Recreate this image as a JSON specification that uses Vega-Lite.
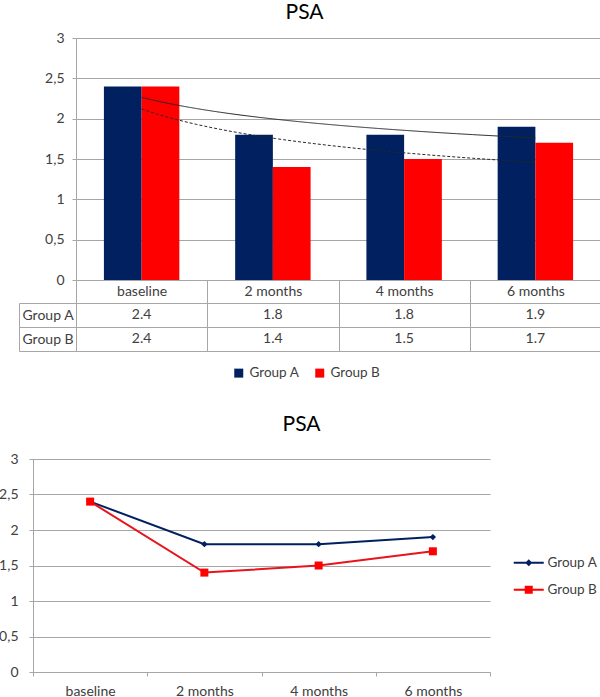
{
  "$schema": "https://vega.github.io/schema/vega-lite/v6.json",
  "padding": {"left": -2, "top": 2, "right": 0, "bottom": 0},
  "config": {
    "font": "Lato",
    "view": {"stroke": null},
    "axis": {"labelFont": "Lato", "labelFontSize": 14, "labelColor": "#404040", "domainColor": "#a6a6a6", "tickColor": "#a6a6a6", "gridColor": "#a6a6a6", "title": null},
    "legend": {"labelFont": "Lato", "labelFontSize": 13.5, "labelColor": "#404040"},
    "title": {"font": "Lato", "fontSize": 21, "fontWeight": "normal", "color": "#000000"}
  },
  "datasets": {
    "psa": [
      {"visit": "baseline", "idx": 1, "group": "Group A", "val": 2.4},
      {"visit": "2 months", "idx": 2, "group": "Group A", "val": 1.8},
      {"visit": "4 months", "idx": 3, "group": "Group A", "val": 1.8},
      {"visit": "6 months", "idx": 4, "group": "Group A", "val": 1.9},
      {"visit": "baseline", "idx": 1, "group": "Group B", "val": 2.4},
      {"visit": "2 months", "idx": 2, "group": "Group B", "val": 1.4},
      {"visit": "4 months", "idx": 3, "group": "Group B", "val": 1.5},
      {"visit": "6 months", "idx": 4, "group": "Group B", "val": 1.7}
    ]
  },
  "spacing": 34,
  "resolve": {"scale": {"color": "independent", "strokeDash": "independent"}, "legend": {"color": "independent", "strokeDash": "independent"}},
  "vconcat": [
    {
      "bounds": "flush",
      "spacing": 0,
      "hconcat": [
        {
          "width": 43, "height": 1,
          "data": {"values": []},
          "mark": {"type": "point", "opacity": 0},
          "encoding": {}
        },
        {
          "bounds": "flush",
          "spacing": 23,
          "vconcat": [
            {
              "width": 525, "height": 242,
              "data": {"name": "psa"},
              "title": {"text": "PSA", "anchor": "middle", "frame": "group", "dx": -34, "offset": 8},
              "layer": [
                {
                  "mark": {"type": "bar"},
                  "encoding": {
                    "x": {"field": "visit", "type": "nominal", "sort": ["baseline", "2 months", "4 months", "6 months"],
                      "scale": {"paddingInner": 0, "paddingOuter": 0},
                      "axis": {"orient": "bottom", "labelAngle": 0, "tickBand": "extent", "tickSize": 23, "labelPadding": -11.5, "labelBaseline": "middle", "grid": false}},
                    "xOffset": {"field": "group", "type": "nominal", "scale": {"paddingInner": 0, "paddingOuter": 0.74}},
                    "y": {"field": "val", "type": "quantitative", "scale": {"domain": [0, 3], "nice": false},
                      "axis": {"values": [0, 0.5, 1, 1.5, 2, 2.5, 3], "tickSize": 4, "labelPadding": 8, "labelExpr": "replace(format(datum.value, '~g'), '.', ',')", "grid": true}},
                    "color": {"field": "group", "type": "nominal",
                      "scale": {"domain": ["Group A", "Group B"], "range": ["#002060", "#ff0000"]},
                      "legend": {"orient": "none", "legendX": 199, "legendY": 328, "direction": "horizontal", "title": null, "symbolType": "square", "symbolSize": 81, "symbolStrokeWidth": 0, "labelOffset": 4, "columnPadding": 13}}
                  }
                },
                {
                  "transform": [{"regression": "val", "on": "idx", "groupby": ["group"], "method": "pow", "extent": [1, 4]}],
                  "mark": {"type": "line", "color": "#262626", "strokeWidth": 1},
                  "encoding": {
                    "x": {"field": "idx", "type": "quantitative", "scale": {"domain": [0.5, 4.5], "nice": false, "zero": false}, "axis": null},
                    "y": {"field": "val", "type": "quantitative"},
                    "strokeDash": {"field": "group", "type": "nominal", "scale": {"domain": ["Group A", "Group B"], "range": [[1, 0], [3, 2]]}, "legend": null}
                  }
                }
              ],
              "resolve": {"scale": {"x": "independent"}}
            },
            {
              "width": 525, "height": 48,
              "data": {"name": "psa"},
              "mark": {"type": "text", "fontSize": 14, "color": "#404040"},
              "encoding": {
                "x": {"field": "visit", "type": "nominal", "sort": ["baseline", "2 months", "4 months", "6 months"],
                  "scale": {"paddingInner": 0, "paddingOuter": 0},
                  "axis": {"orient": "top", "labels": false, "ticks": false, "domain": false, "grid": true, "tickBand": "extent"}},
                "y": {"field": "group", "type": "nominal", "scale": {"paddingInner": 0, "paddingOuter": 0},
                  "axis": {"orient": "left", "offset": 57, "domain": true, "ticks": true, "tickSize": -57, "tickBand": "extent", "grid": true, "labelAlign": "left", "labelPadding": 54}},
                "text": {"field": "val", "type": "quantitative", "format": ".1f"}
              },
              "view": {"stroke": "#a6a6a6"}
            }
          ]
        }
      ]
    },
    {
      "width": 457, "height": 213,
      "data": {"name": "psa"},
      "title": {"text": "PSA", "anchor": "middle", "frame": "group", "dx": 40, "offset": 17},
      "encoding": {
        "x": {"field": "visit", "type": "nominal", "sort": ["baseline", "2 months", "4 months", "6 months"],
          "scale": {"paddingInner": 0, "paddingOuter": 0},
          "axis": {"orient": "bottom", "labelAngle": 0, "tickBand": "extent", "tickSize": 4, "labelPadding": 8, "grid": false}},
        "y": {"field": "val", "type": "quantitative", "scale": {"domain": [0, 3], "nice": false},
          "axis": {"values": [0, 0.5, 1, 1.5, 2, 2.5, 3], "tickSize": 4, "labelPadding": 11, "labelExpr": "replace(format(datum.value, '~g'), '.', ',')", "grid": true}}
      },
      "layer": [
        {
          "mark": {"type": "line", "strokeWidth": 2},
          "encoding": {
            "color": {"field": "group", "type": "nominal",
              "scale": {"domain": ["Group A", "Group B"], "range": ["#002060", "#e8141b"]},
              "legend": {"orient": "none", "legendX": 479, "legendY": 97, "title": null, "symbolSize": 100, "symbolStrokeWidth": 0, "labelOffset": 22, "rowPadding": 12,
                "encode": {"symbols": {"update": {
                  "shape": {"signal": "datum.value === 'Group A' ? 'M-1,-0.2H5V0.2H-1Z M2,-0.7L2.7,0L2,0.7L1.3,0Z' : 'M-1,-0.2H5V0.2H-1Z M1.2,-0.8H2.8V0.8H1.2Z'"},
                  "fill": {"signal": "datum.value === 'Group A' ? '#002060' : '#ff0000'"},
                  "fillOpacity": {"value": 1},
                  "opacity": {"value": 1}
                }}}}}
          }
        },
        {
          "mark": {"type": "point", "filled": true, "opacity": 1},
          "encoding": {
            "fill": {"condition": {"test": "datum.group === 'Group A'", "value": "#002060"}, "value": "#ff0000"},
            "shape": {"condition": {"test": "datum.group === 'Group A'", "value": "diamond"}, "value": "square"},
            "size": {"condition": {"test": "datum.group === 'Group A'", "value": 40}, "value": 64}
          }
        }
      ]
    }
  ]
}
